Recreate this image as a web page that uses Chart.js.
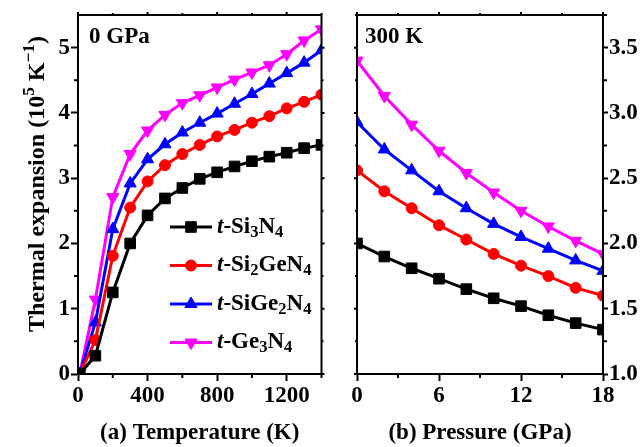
<!DOCTYPE html>
<html>
<head>
<meta charset="utf-8">
<script src="https://cdn.jsdelivr.net/npm/chart.js@4"></script>
<style>
  body { margin: 0; background: #fff; }
  #wrap { position: relative; width: 644px; height: 447px; }
  canvas { position: absolute; top: 0; }
</style>
</head>
<body>
<div id="wrap">
  <canvas id="tempChart" width="330" height="447" style="left:0"></canvas>
  <canvas id="presChart" width="314" height="447" style="left:330px"></canvas>
</div>
<script>
// series names (digits become subscripts, leading t is italic)
const seriesNames = ['t-Si3N4', 't-Si2GeN4', 't-SiGe2N4', 't-Ge3N4'];

// (a) thermal expansion vs temperature at 0 GPa
const temps = [10, 100, 200, 300, 400, 500, 600, 700, 800, 900, 1000, 1100, 1200, 1300, 1400];
const tSi3N4   = [0, 0.28, 1.25, 2.00, 2.43, 2.69, 2.85, 2.99, 3.09, 3.18, 3.26, 3.33, 3.39, 3.46, 3.51];
const tSi2GeN4 = [0, 0.52, 1.81, 2.55, 2.95, 3.20, 3.37, 3.51, 3.64, 3.74, 3.85, 3.95, 4.07, 4.17, 4.28];
const tSiGe2N4 = [0, 0.79, 2.22, 2.92, 3.29, 3.52, 3.70, 3.85, 3.99, 4.14, 4.29, 4.45, 4.61, 4.77, 4.96];
const tGe3N4   = [0, 1.14, 2.71, 3.37, 3.73, 3.97, 4.15, 4.27, 4.39, 4.51, 4.62, 4.73, 4.90, 5.11, 5.28];

// (b) thermal expansion vs pressure at 300 K
const pressures = [0, 2, 4, 6, 8, 10, 12, 14, 16, 18];
const pSi3N4   = [2.00, 1.90, 1.81, 1.73, 1.65, 1.58, 1.52, 1.45, 1.39, 1.34];
const pSi2GeN4 = [2.56, 2.40, 2.27, 2.14, 2.03, 1.92, 1.83, 1.75, 1.66, 1.60];
const pSiGe2N4 = [2.93, 2.72, 2.56, 2.40, 2.27, 2.15, 2.05, 1.96, 1.87, 1.79];
const pGe3N4   = [3.40, 3.13, 2.91, 2.71, 2.54, 2.39, 2.25, 2.13, 2.02, 1.92];

const colors = ['#000000', '#ff0000', '#0000ff', '#ff00ff'];
const markers = [
  { pointStyle: 'rect', radius: 7.5, rotation: 0 },
  { pointStyle: 'circle', radius: 5.5, rotation: 0 },
  { pointStyle: 'triangle', radius: 7, rotation: 0 },
  { pointStyle: 'triangle', radius: 7, rotation: 180 }
];
const FONT = '"Liberation Serif", "Times New Roman", serif';
const TICK_SIZE = 23;

function makeDatasets(xs, series) {
  return series.map((ys, i) => ({
    label: seriesNames[i],
    data: xs.map((x, j) => ({ x: x, y: ys[j] })),
    borderColor: colors[i],
    backgroundColor: colors[i],
    borderWidth: 3,
    pointStyle: markers[i].pointStyle,
    pointRadius: markers[i].radius,
    pointRotation: markers[i].rotation,
    pointBorderWidth: 1,
    tension: 0,
    clip: 0
  }));
}

function parseName(name) {
  const parts = [];
  for (let k = 0; k < name.length; k++) {
    const c = name[k];
    if (k === 0 && c === 't') parts.push({ t: c, it: true });
    else if (/\d/.test(c)) parts.push({ t: c, sub: true });
    else parts.push({ t: c });
  }
  return parts;
}

function partFont(p, size) {
  const s = (p.sub || p.sup) ? size * 0.72 : size;
  return (p.it ? 'italic ' : '') + 'bold ' + s + 'px ' + FONT;
}

function richWidth(ctx, parts, size) {
  let w = 0;
  for (const p of parts) {
    ctx.font = partFont(p, size);
    w += ctx.measureText(p.t).width;
  }
  return w;
}

function drawRich(ctx, parts, x, y, size) {
  let cx = x;
  for (const p of parts) {
    ctx.font = partFont(p, size);
    const dy = p.sub ? size * 0.24 : (p.sup ? -size * 0.4 : 0);
    ctx.fillText(p.t, cx, y + dy);
    cx += ctx.measureText(p.t).width;
  }
}

// box, minor ticks, mirrored ticks, panel note, legend, y title
const decoPlugin = {
  id: 'deco',
  afterDatasetsDraw(chart, args, opts) {
    const ctx = chart.ctx;
    const a = chart.chartArea;
    const xs = chart.scales.x;
    const ys = chart.scales.y;
    ctx.save();
    ctx.strokeStyle = '#000';
    ctx.fillStyle = '#000';
    ctx.lineWidth = 2;
    ctx.strokeRect(a.left, a.top, a.right - a.left, a.bottom - a.top);

    ctx.beginPath();
    opts.xMinor.forEach(v => {
      const px = xs.getPixelForValue(v);
      ctx.moveTo(px, a.bottom); ctx.lineTo(px, a.bottom + 4);
      ctx.moveTo(px, a.top); ctx.lineTo(px, a.top - 2);
    });
    opts.xMajor.forEach(v => {
      const px = xs.getPixelForValue(v);
      ctx.moveTo(px, a.top); ctx.lineTo(px, a.top - 3);
    });
    const inner = opts.yRight ? a.left : a.right;
    const outer = opts.yRight ? a.right : a.left;
    const dir = opts.yRight ? 1 : -1;
    opts.yMinor.forEach(v => {
      const py = ys.getPixelForValue(v);
      ctx.moveTo(outer, py); ctx.lineTo(outer + dir * 4, py);
      ctx.moveTo(inner, py); ctx.lineTo(inner - dir * 2, py);
    });
    opts.yMajor.forEach(v => {
      const py = ys.getPixelForValue(v);
      ctx.moveTo(inner, py); ctx.lineTo(inner - dir * 3, py);
    });
    ctx.stroke();

    ctx.textBaseline = 'alphabetic';
    ctx.textAlign = 'left';
    ctx.font = 'bold 23px ' + FONT;
    ctx.fillText(opts.note, a.left + opts.noteDx, a.top + 28);

    if (opts.legend) {
      chart.data.datasets.forEach((ds, i) => {
        const y = 227 + i * 38.5;
        ctx.strokeStyle = ds.borderColor;
        ctx.fillStyle = ds.backgroundColor;
        ctx.lineWidth = 3;
        ctx.beginPath();
        ctx.moveTo(170, y); ctx.lineTo(212, y);
        ctx.stroke();
        ctx.lineWidth = 1;
        Chart.helpers.drawPoint(ctx, {
          pointStyle: ds.pointStyle, radius: ds.pointRadius,
          rotation: ds.pointRotation, borderWidth: 1
        }, 191, y);
        ctx.fillStyle = '#000';
        ctx.textBaseline = 'middle';
        drawRich(ctx, parseName(ds.label), 217, y, 23);
      });
    }

    if (opts.yTitle) {
      const parts = [{ t: 'Thermal expansion (10' }, { t: '5', sup: true }, { t: ' K' },
                     { t: '\u22121', sup: true }, { t: ')' }];
      const w = richWidth(ctx, parts, 24);
      ctx.translate(44, 184);
      ctx.rotate(-Math.PI / 2);
      ctx.fillStyle = '#000';
      ctx.textBaseline = 'alphabetic';
      drawRich(ctx, parts, -w / 2, 0, 24);
    }
    ctx.restore();
  }
};

function axis(min, max, step, extra) {
  return Object.assign({
    type: 'linear',
    min: min,
    max: max,
    border: { display: true, color: '#000', width: 2 },
    grid: { display: true, drawOnChartArea: false, drawTicks: true, tickLength: 7, tickWidth: 2, tickColor: '#000' },
    ticks: { stepSize: step, includeBounds: false, color: '#000', padding: 1,
             font: { family: FONT, weight: 'bold', size: TICK_SIZE },
             callback: v => String(v) }
  }, extra);
}

new Chart(document.getElementById('tempChart'), {
  type: 'line',
  data: { datasets: makeDatasets(temps, [tSi3N4, tSi2GeN4, tSiGe2N4, tGe3N4]) },
  options: {
    responsive: false,
    animation: false,
    layout: { padding: { top: 15, right: 7, left: 0, bottom: 0 } },
    plugins: {
      legend: { display: false },
      tooltip: { enabled: false },
      deco: {
        xMinor: [200, 600, 1000, 1400], xMajor: [0, 400, 800, 1200],
        yMinor: [0.5, 1.5, 2.5, 3.5, 4.5], yMajor: [0, 1, 2, 3, 4, 5],
        yRight: false, note: '0 GPa', noteDx: 11, legend: true, yTitle: true
      }
    },
    scales: {
      x: axis(0, 1400, 400, {
        title: { display: true, text: '(a) Temperature (K)', color: '#000', padding: { top: 4, bottom: 0 },
                 font: { family: FONT, weight: 'bold', size: 23 } },
        afterFit(s) { s.height = 73; }
      }),
      y: axis(0, 5.5, 1, { afterFit(s) { s.width = 78; } })
    }
  },
  plugins: [decoPlugin]
});

new Chart(document.getElementById('presChart'), {
  type: 'line',
  data: { datasets: makeDatasets(pressures, [pSi3N4, pSi2GeN4, pSiGe2N4, pGe3N4]) },
  options: {
    responsive: false,
    animation: false,
    layout: { padding: { top: 15, right: 0, left: 27, bottom: 0 } },
    plugins: {
      legend: { display: false },
      tooltip: { enabled: false },
      deco: {
        xMinor: [3, 9, 15], xMajor: [0, 6, 12, 18],
        yMinor: [1.25, 1.75, 2.25, 2.75, 3.25, 3.75], yMajor: [1, 1.5, 2, 2.5, 3, 3.5],
        yRight: true, note: '300 K', noteDx: 8, legend: false, yTitle: false
      }
    },
    scales: {
      x: axis(0, 18, 6, {
        title: { display: true, text: '(b) Pressure (GPa)', color: '#000', padding: { top: 4, bottom: 0 },
                 font: { family: FONT, weight: 'bold', size: 23 } },
        afterFit(s) { s.height = 73; }
      }),
      y: axis(1, 3.75, 0.5, {
        position: 'right',
        grid: { display: true, drawOnChartArea: false, drawTicks: true, tickLength: 5, tickWidth: 2, tickColor: '#000' },
        ticks: { stepSize: 0.5, includeBounds: false, color: '#000', padding: 1,
                 font: { family: FONT, weight: 'bold', size: TICK_SIZE },
                 callback: v => v.toFixed(1) },
        afterFit(s) { s.width = 41; }
      })
    }
  },
  plugins: [decoPlugin]
});
</script>
</body>
</html>
